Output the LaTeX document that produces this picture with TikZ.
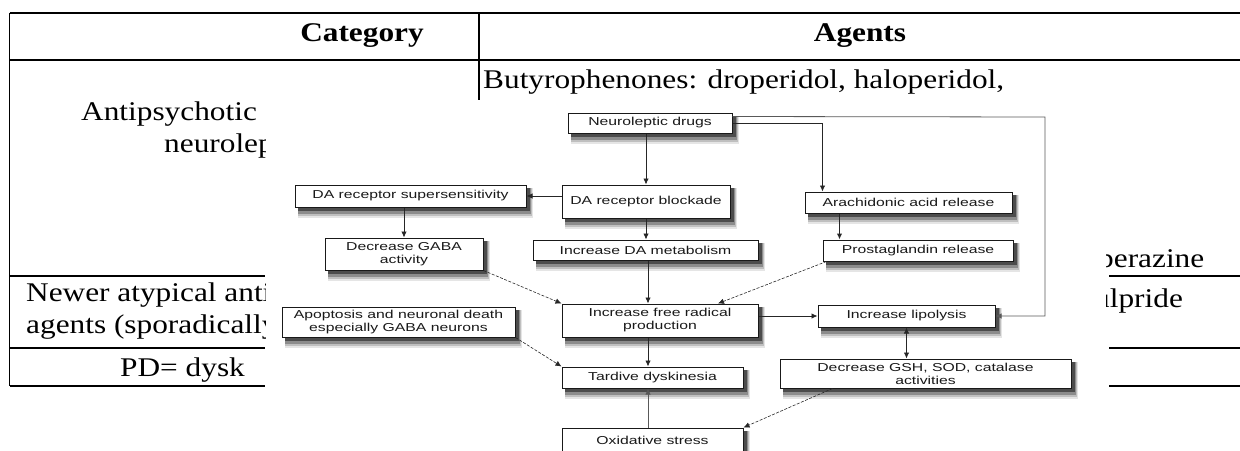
\documentclass[tikz,border=0pt]{standalone}
\usepackage{fontspec}
\setmainfont{Liberation Serif}[FakeStretch=1.16]
\newfontfamily\flowfont{Liberation Sans}[FakeStretch=1.37]
\usetikzlibrary{arrows.meta,calc,backgrounds}
\begin{document}
\begin{tikzpicture}[x=1pt,y=-1pt,
  tbl/.style={line width=1.3pt, black},
  cell/.style={anchor=base west, inner sep=0pt, font=\fontsize{27}{30}\selectfont},
  head/.style={anchor=base, inner sep=0pt, font=\fontsize{27}{30}\selectfont\bfseries},
  fbox/.style={draw=black!90, line width=1pt, fill=white, inner sep=0pt, align=center,
    font=\flowfont\fontsize{11.5}{13}\selectfont, text=black!90},
  arr/.style={-{Latex[length=6pt,width=5.5pt]}, line width=0.8pt, black!85},
  darr/.style={arr, dash pattern=on 3pt off 1.5pt, line width=0.6pt},
]
\useasboundingbox (0,0) rectangle (1240,450);
% ---------- table ----------
\draw[tbl] (9.5,13) -- (1240,13);
\draw[tbl] (9.5,60) -- (1240,60);
\draw[tbl] (9.5,13) -- (9.5,386);
\draw[tbl] (479,13) -- (479,100);
\draw[tbl] (9.5,276) -- (265,276);
\draw[tbl] (9.5,348) -- (265,348);
\draw[tbl] (9.5,386) -- (265,386);
\draw[tbl] (1109,276) -- (1240,276);
\draw[tbl] (1109,348) -- (1240,348);
\draw[tbl] (1109,386) -- (1240,386);
\node[head] (hcat) at (362,41) {Category};
\node[head] (hag) at (860,41) {Agents};
\node[cell] (tbut) at (483,88) {Butyrophenones: droperidol, haloperidol,};
\node[cell] (tant) at (81,120) {Antipsychotic};
\begin{scope}
  \clip (0,125) rectangle (265,450);
  \node[cell] (tneu) at (164,152) {neurolep};
  \node[cell] (tnew) at (26,301) {Newer atypical anti};
  \node[cell] (tage) at (26,333) {agents (sporadically};
  \node[cell] (tpd) at (120,376) {PD= dysk};
\end{scope}
\begin{scope}
  \clip (1106,200) rectangle (1240,450);
  \node[cell] (tper) at (1098,267) {perazine};
  \node[cell] (tulp) at (1094,307) {ulpride};
\end{scope}
% ---------- flowchart ----------
\node[fbox, minimum width=164, minimum height=20] (neuro) at (650,123) {Neuroleptic drugs};
\node[fbox, minimum width=231, minimum height=22] (super) at (410.5,196) {DA receptor supersensitivity};
\node[fbox, minimum width=168, minimum height=33] (block) at (646,201.5) {DA receptor blockade};
\node[fbox, minimum width=207, minimum height=21] (arach) at (908.5,202.5) {Arachidonic acid release};
\node[fbox, minimum width=158, minimum height=32] (gaba) at (404,254) {Decrease GABA\\activity};
\node[fbox, minimum width=225, minimum height=20] (dameta) at (645.5,250) {Increase DA metabolism};
\node[fbox, minimum width=190, minimum height=21] (prost) at (918,250.5) {Prostaglandin release};
\node[fbox, minimum width=233, minimum height=30] (apop) at (398.5,322) {Apoptosis and neuronal death\\especially GABA neurons};
\node[fbox, minimum width=196, minimum height=33] (free) at (660,320.5) {Increase free radical\\production};
\node[fbox, minimum width=177, minimum height=22] (lipo) at (906.5,316) {Increase lipolysis};
\node[fbox, minimum width=181, minimum height=21] (tard) at (652.5,377.5) {Tardive dyskinesia};
\node[fbox, minimum width=291, minimum height=29] (gsh) at (925.5,373.5) {Decrease GSH, SOD, catalase\\activities};
\node[fbox, minimum width=181, minimum height=24] (oxid) at (652.5,440) {Oxidative stress};
% shadows
\begin{scope}[on background layer]
  \foreach \n in {neuro,super,block,arach,gaba,dameta,prost,apop,free,lipo,tard,gsh,oxid}{
    \fill[black!10] ($(\n.north west)+(3,3)$) rectangle ($(\n.south east)+(6,10)$);
    \fill[black!25] ($(\n.north west)+(3,3)$) rectangle ($(\n.south east)+(5,8)$);
    \fill[black!45] ($(\n.north west)+(3,3)$) rectangle ($(\n.south east)+(4,6)$);
    \fill[black!70] ($(\n.north west)+(3,3)$) rectangle ($(\n.south east)+(3,3.5)$);
  }
\end{scope}
% connectors
\coordinate (ax) at (648,0);
\coordinate (rc) at (1045,117);
\coordinate (ap) at ($(arach.south west)+(35,0)$);
\coordinate (aa) at ($(arach.north west)+(18,0)$);
\draw[arr] (neuro.south -| block.north) -- (block.north);
\draw[arr] (block.west |- super.east) -- (super.east);
\draw[arr] (super.south -| gaba.north) -- (gaba.north);
\draw[arr] (block.south) -- (block.south |- dameta.north);
\draw[arr] (neuro.east) -| (aa);
\draw[arr, black!65] ($(neuro.north east)+(0,4)$) -- (rc) |- (lipo.east);
\draw[arr, line width=1.3pt] (ap) -- (ap |- prost.north);
\draw[darr] (gaba.south east) -- (free.north west);
\draw[arr] (dameta.south -| ax) -- (free.north -| ax);
\draw[darr] ($(prost.south west)+(4,0)$) -- ($(free.north)+(58,0)$);
\draw[arr] (free.east |- lipo.west) -- (lipo.west);
\draw[{Latex[length=6pt,width=5.5pt]}-{Latex[length=6pt,width=5.5pt]}, line width=0.8pt, black!85] (lipo.south) -- (lipo.south |- gsh.north);
\draw[arr] (free.south -| ax) -- (tard.north -| ax);
\draw[darr] (apop.south east) -- (tard.north west);
\draw[arr, black!65] (oxid.north -| ax) -- (tard.south -| ax);
\draw[darr] ($(gsh.south west)+(53,0)$) -- (oxid.north east);
\end{tikzpicture}
\end{document}
